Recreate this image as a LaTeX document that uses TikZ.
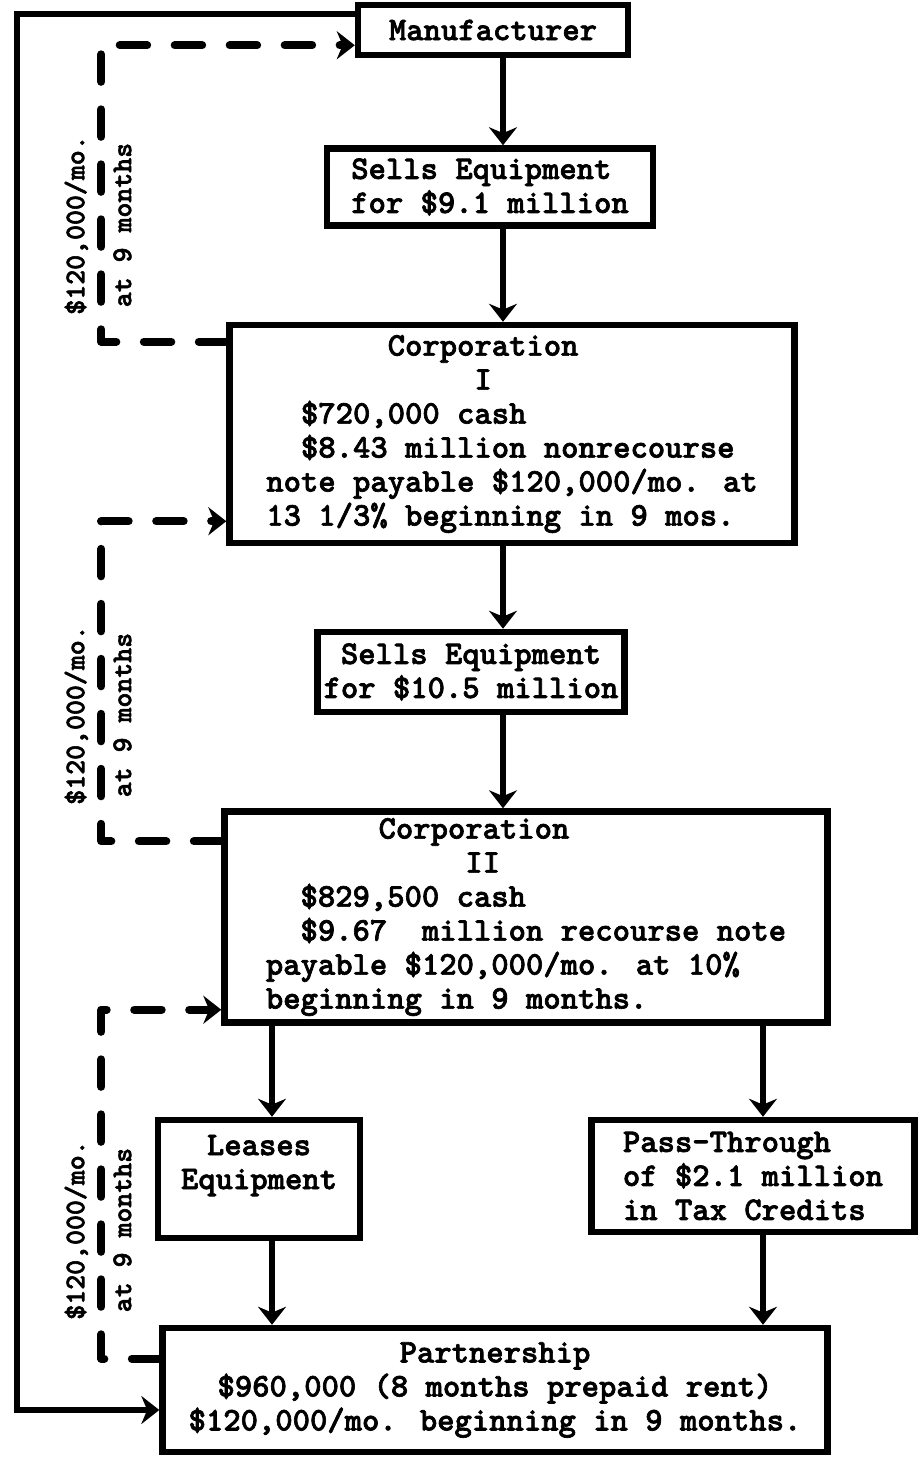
\documentclass[tikz,border=0pt]{standalone}
\usepackage{fontspec}
\newfontfamily\typefont{lmmonolt10-bold.otf}[RawFeature={embolden=2}]
\usetikzlibrary{arrows.meta}
\newcommand{\typecol}[1]{\hspace*{#1\dimexpr0.525em\relax}}
\tikzset{
	box/.style={draw, line width=0.13cm, align=center, inner sep=0pt,
		font=\typefont\fontsize{18.8}{19.35}\selectfont},
	flow/.style={line width=0.13cm, -{Stealth[length=0.36cm,width=0.56cm]}},
	pay/.style={flow, line width=0.16cm, line cap=round, line join=round,
		dash pattern=on 0.55cm off 0.55cm},
	paylabel/.style={rotate=90, align=center, inner sep=0pt,
		font=\typefont\fontsize{16.2}{26.7}\selectfont}
}

\begin{document}
\begin{tikzpicture}[x=0.02cm,y=-0.02cm]
	\useasboundingbox (0,0) rectangle (920,1457);
	\node[box, minimum width=5.4cm, minimum height=1cm] (manufacturer) at (493,30) {Manufacturer};
	\node[box, align=left, minimum width=6.52cm, minimum height=1.54cm] (sellsA) at (490,187) {Sells Equipment\\for \$9.1 million};
	\node[box, align=left, minimum width=11.3cm, minimum height=4.36cm] (corpI) at (512,434) {%
		\typecol{7}Corporation\\
		\typecol{12}I\\
		\typecol{2}\$720,000 cash\\
		\typecol{2}\$8.43 million nonrecourse\\
		note payable \$120,000/mo. at\\
		13 1/3\% beginning in 9 mos.};
	\node[box, minimum width=6.14cm, minimum height=1.6cm] (sellsB) at (471,672) {Sells Equipment\\for \$10.5 million};
	\node[box, align=left, minimum width=12.06cm, minimum height=4.22cm] (corpII) at (526,917) {%
		\typecol{6.5}Corporation\\
		\typecol{11.5}II\\
		\typecol{2}\$829,500 cash\\
		\typecol{2}\$9.67\typecol{2}million recourse note\\
		payable \$120,000/mo. at 10\%\\
		beginning in 9 months.};
	\node[box, minimum width=4.04cm, minimum height=2.36cm] (leases) at (259,1179) {Leases\\Equipment\\\mbox{}};
	\node[box, align=left, minimum width=6.46cm, minimum height=2.24cm] (passthrough) at (753,1176) {Pass-Through\\of \$2.1 million\\in Tax Credits};
	\node[box, minimum width=13.3cm, minimum height=2.48cm] (partnership) at (495,1390) {Partnership\\\$960,000 (8 months prepaid rent)\\\$120,000/mo. beginning in 9 months.};

	\coordinate (spine) at (503,0);
	\coordinate (leftdrop) at (272,0);
	\coordinate (rightdrop) at (763,0);
	\foreach \a/\b in {manufacturer/sellsA, sellsA/corpI, corpI/sellsB, sellsB/corpII}
		\draw[flow] (\a.south -| spine) -- (\b.north -| spine);
	\foreach \d/\b in {leftdrop/leases, rightdrop/passthrough}{
		\draw[flow] (corpII.south -| \d) -- (\b.north -| \d);
		\draw[flow] (\b.south -| \d) -- (partnership.north -| \d);
	}

	% outer solid return
	\coordinate (corner) at (17,1410);
	\draw[flow] ([yshift=-0.24cm]manufacturer.north west) -| (corner) -- (corner -| partnership.west);

	% monthly payments
	\draw[pay] ([yshift=-0.4cm]corpI.north west) -- ++(-125,0) |- ([yshift=0.26cm]manufacturer.south west);
	\draw[pay] ([yshift=-0.66cm]corpII.north west) -- ++(-120,0) |- ([yshift=0.5cm]corpI.south west);
	\draw[pay] ([yshift=-0.68cm]partnership.north west) -- ++(-58,0) |- ([yshift=0.32cm]corpII.south west);
	\foreach \y/\n in {225/A, 715/B, 1230/C}
		\node[paylabel] (pay\n) at (98,\y) {\$120,000/mo.\\at 9 months};
\end{tikzpicture}
\end{document}
